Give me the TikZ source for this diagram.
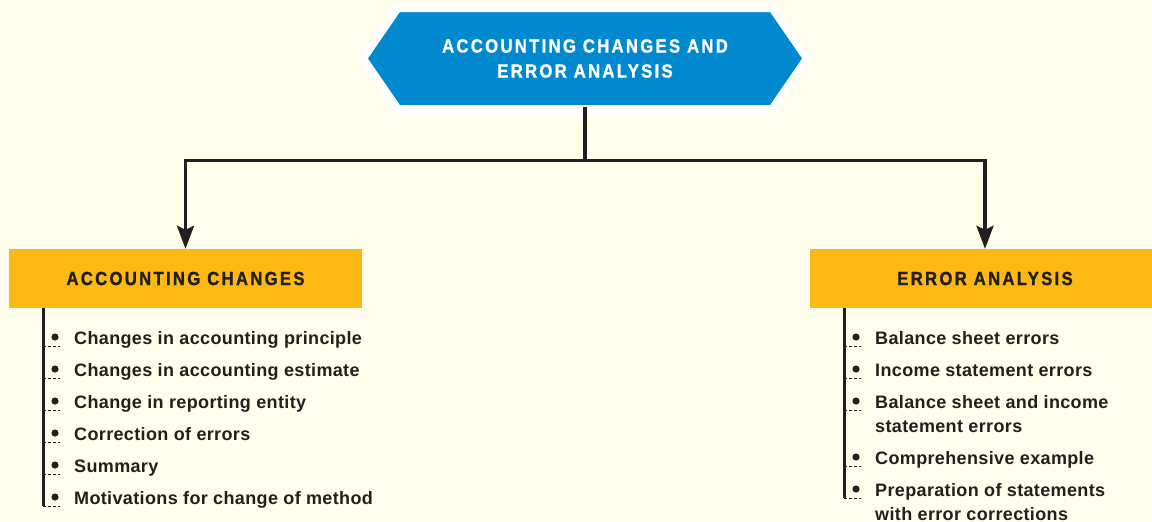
\documentclass[tikz,border=0pt]{standalone}
\usepackage{fontspec}
\setmainfont{Liberation Sans}
\newfontfamily\headfont{Liberation Sans}[FakeStretch=0.88,LetterSpace=12,BoldFeatures={FakeBold=1.2}]
\newfontfamily\itemfont{Liberation Sans}[LetterSpace=2]
\usetikzlibrary{arrows.meta,shapes.symbols}
\definecolor{cream}{RGB}{255,253,236}
\definecolor{hexblue}{RGB}{0,137,207}
\definecolor{boxorange}{RGB}{253,185,19}
\definecolor{ink}{RGB}{35,31,32}
\begin{document}
\begin{tikzpicture}[x=1pt,y=-1pt,
  conn/.style={draw=ink,line width=3.5,-{Stealth[length=23pt,width=17pt,inset=4pt]}},
  headbox/.style={fill=boxorange,minimum height=59,inner sep=0,text=ink,
    font=\headfont\bfseries\fontsize{19}{25}\selectfont},
  item/.style={anchor=base west,align=left,inner sep=0,text=ink,
    font=\itemfont\bfseries\fontsize{18}{24}\selectfont},
  bar/.style={draw=ink,line width=3},
  tick/.style={draw=ink,line width=1,dash pattern=on 3pt off 2pt}]
\useasboundingbox (0,0) rectangle (1152,522);
\fill[cream] (0,0) rectangle (1152,522);

% top
\node[signal,signal to=west and east,signal pointer angle=111,
  fill=hexblue,draw=white,line width=8,minimum width=444,minimum height=101,
  inner sep=0,align=center,text=white,
  font=\headfont\bfseries\fontsize{19}{25}\selectfont] (main) at (585,58.5)
  {ACCOUNTING CHANGES AND\\ERROR ANALYSIS};

% headings
\node[headbox,minimum width=353] (acc) at (185.5,278.5) {ACCOUNTING CHANGES};
\node[headbox,minimum width=350] (err) at (985,278.5) {ERROR ANALYSIS};

\coordinate (split) at (585,160.5);
\draw[draw=ink,line width=3.5] ([yshift=6]main.south) -- (split);
\draw[conn] (split) -| (acc.north);
\draw[conn] (split) -| (err.north);

% left list (y of bullet / y of last baseline)
\coordinate (accbar) at (43,308);
\coordinate (accend) at (43,506);
\draw[bar] (accbar) -- (accend);
\foreach \y/\b/\txt [count=\i] in {338/344.5/Changes in accounting principle,
    370/376.5/Changes in accounting estimate,
    402/408.5/Change in reporting entity,
    434/440.5/Correction of errors,
    466/472.5/Summary,
    498/504.5/Motivations for change of method} {
  \node[item] (a\i) at (74,\b) {\txt};
  \fill[ink] (55,\y-1) circle (3.6);
  \draw[tick] (43,\y+8) -- (60,\y+8);
}

% right list
\coordinate (errbar) at (844,308);
\coordinate (errend) at (844,498);
\draw[bar] (errbar) -- (errend);
\foreach \y/\b/\txt [count=\i] in {338/344.5/Balance sheet errors,
    370/376.5/Income statement errors,
    402/432.5/{Balance sheet and income\\statement errors},
    458/464.5/Comprehensive example,
    490/520.5/{Preparation of statements\\with error corrections}} {
  \node[item] (b\i) at (875,\b) {\txt};
  \fill[ink] (856,\y-1) circle (3.6);
  \draw[tick] (844,\y+8) -- (861,\y+8);
}
\end{tikzpicture}
\end{document}
